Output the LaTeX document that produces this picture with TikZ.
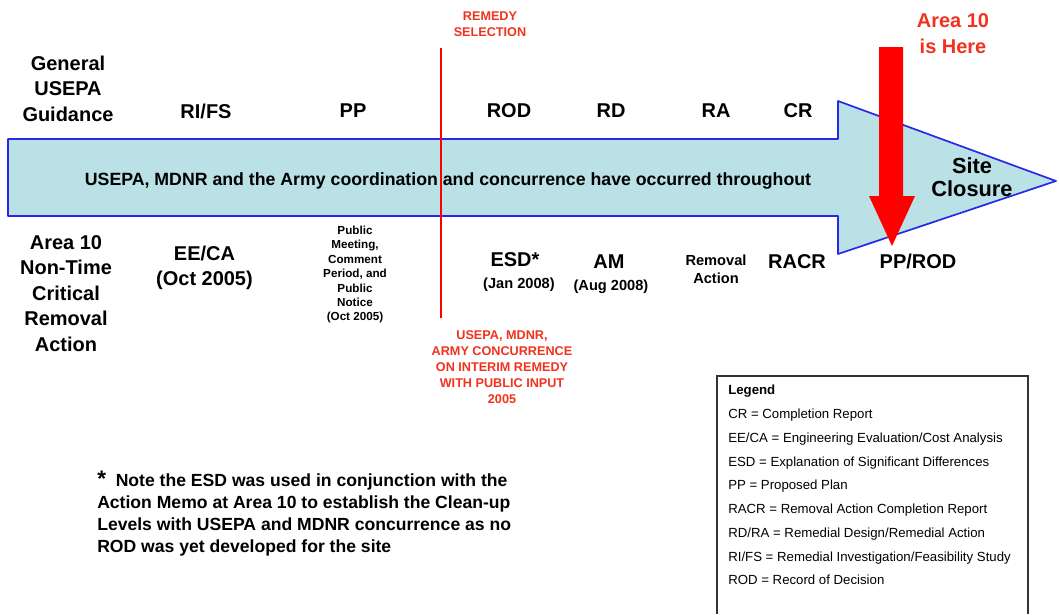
\documentclass[tikz,border=0pt]{standalone}
\usepackage{fontspec}
\setmainfont{Liberation Sans}
\usepackage{tikz}
\usetikzlibrary{arrows}

\definecolor{flowfill}{RGB}{185,225,230}
\definecolor{flowblue}{RGB}{40,40,230}
\definecolor{notered}{RGB}{240,50,30}

\begin{document}
\begin{tikzpicture}[x=0.025cm,y=-0.025cm,
    lbl/.style={font=\fontsize{14.2}{18.1}\selectfont\bfseries, align=center, inner sep=0pt},
    tiny/.style={font=\fontsize{8.3}{10.3}\selectfont\bfseries, align=center, inner sep=0pt},
    when/.style={font=\fontsize{10.4}{12.8}\selectfont\bfseries, align=center, inner sep=0pt},
    redlbl/.style={text=notered, font=\fontsize{9}{11.3}\selectfont\bfseries, align=center, inner sep=0pt}]
      \useasboundingbox (0,0) rectangle (1059,614);
      % timeline arrow
      \draw[flowblue, line width=1.2pt, line join=round, fill=flowfill] (8,139) -- (838,139) -- (838,101) -- (1056,181) -- (838,254) -- (838,216) -- (8,216) -- cycle;
      \node[font=\fontsize{12.6}{15}\selectfont\bfseries, inner sep=0pt] at (448,181) (coord){USEPA, MDNR and the Army coordination and concurrence have occurred throughout};
      \node[lbl, font=\fontsize{15.5}{16.4}\selectfont\bfseries] at (972,177) (close){Site\\Closure};
      % remedy selection line
      \coordinate (seltop) at (441,48);
      \coordinate (selbot) at (441,318);
      \draw[red, line width=1.6pt] (seltop) -- (selbot);
      \node[redlbl] at (490,24) (sel){REMEDY\\SELECTION};
      \node[redlbl] at (502,367) (interim){USEPA, MDNR,\\ARMY CONCURRENCE\\ON INTERIM REMEDY\\WITH PUBLIC INPUT\\2005};
      % general guidance row
      \node[lbl] at (68,88.5) (guide){General\\USEPA\\Guidance};
      \node[lbl] at (206,111) (rifs){RI/FS};
      \node[lbl] at (353,111) (pp){PP};
      \node[lbl] at (509,111) (rod){ROD};
      \node[lbl] at (611,111) (rd){RD};
      \node[lbl] at (716,111) (ra){RA};
      \node[lbl] at (798,111) (cr){CR};
      % area 10 row
      \node[lbl] at (66,293.5) (area){Area 10\\Non-Time\\Critical\\Removal\\Action};
      \node[lbl] at (204.5,268) (eeca){EE/CA\\(Oct 2005)};
      \node[tiny] at (355,274.5) (meet){Public\\Meeting,\\Comment\\Period, and\\Public\\Notice\\(Oct 2005)};
      \node[lbl] at (515,260) (esd){ESD*};
      \node[when] at (519,285) (esdwhen){(Jan 2008)};
      \node[lbl] at (609,262) (am){AM};
      \node[when] at (611,287) (amwhen){(Aug 2008)};
      \node[when] at (716,269) (remove){Removal\\Action};
      \node[lbl] at (797,262) (racr){RACR};
      \node[lbl] at (918,261) (pprod){PP/ROD};
      % area 10 marker
      \fill[red] (879,47) -- (903,47) -- (903,196) -- (915,196) -- (892,246) -- (869,196) -- (879,196) -- cycle;
      \node[lbl, text=notered] at (953,33.5) (here){Area 10\\is Here};
      % note
      \node[anchor=north west, align=left, inner sep=0pt, font=\fontsize{12.5}{15.6}\selectfont\bfseries] at (97,471) (note){{\fontsize{16}{15.6}\selectfont *}\ \ Note the ESD was used in conjunction with the\\Action Memo at Area 10 to establish the Clean-up\\Levels with USEPA and MDNR concurrence as no\\ROD was yet developed for the site};
      % legend
      \draw[black!80, line width=0.8pt] (717,614) -- (717,376) -- (1028,376) -- (1028,614);
      \node[anchor=north west, align=left, inner sep=0pt, font=\fontsize{9.4}{16.9}\selectfont] at (728,385) (legend){{\bfseries Legend}\\CR = Completion Report\\EE/CA = Engineering Evaluation/Cost Analysis\\ESD = Explanation of Significant Differences\\PP = Proposed Plan\\RACR = Removal Action Completion Report\\RD/RA = Remedial Design/Remedial Action\\RI/FS = Remedial Investigation/Feasibility Study\\ROD = Record of Decision};
    \end{tikzpicture}
\end{document}
